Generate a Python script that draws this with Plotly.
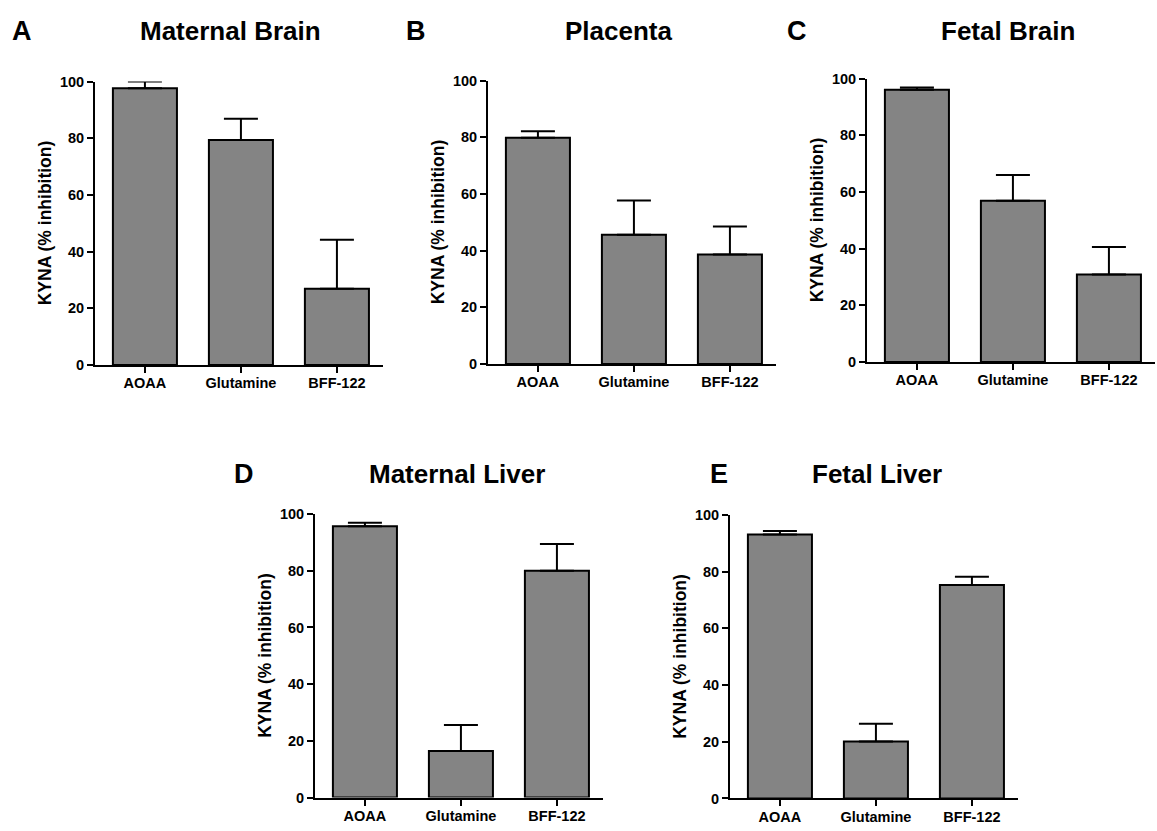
import plotly.graph_objects as go

W, H = 1157, 831

categories = ["AOAA", "Glutamine", "BFF-122"]

panel_letters = ["A", "B", "C", "D", "E"]
panel_titles = ["Maternal Brain", "Placenta", "Fetal Brain", "Maternal Liver", "Fetal Liver"]

maternal_brain_mean = [97.6, 79.4, 26.9]
maternal_brain_sem = [2.4, 7.5, 17.3]
placenta_mean = [79.8, 45.6, 38.6]
placenta_sem = [2.3, 12.1, 9.9]
fetal_brain_mean = [96.1, 56.9, 30.9]
fetal_brain_sem = [0.8, 9.1, 9.7]
maternal_liver_mean = [95.7, 16.4, 80.0]
maternal_liver_sem = [1.2, 9.2, 9.4]
fetal_liver_mean = [93.1, 20.1, 75.3]
fetal_liver_sem = [1.3, 6.3, 2.9]

means = [maternal_brain_mean, placenta_mean, fetal_brain_mean, maternal_liver_mean, fetal_liver_mean]
sems = [maternal_brain_sem, placenta_sem, fetal_brain_sem, maternal_liver_sem, fetal_liver_sem]

y_title = "KYNA (% inhibition)"
y_ticks = [0, 20, 40, 60, 80, 100]

# pixel layout of each plot area: (left, right, top, bottom)
boxes = [
    (95, 383, 75, 364),
    (488, 776, 74, 363),
    (867, 1155, 72, 361),
    (315, 603, 516, 805),
    (730, 1018, 517, 806),
]
title_pos = [(230, 23), (618, 23), (1008, 23), (457, 475), (877, 475)]
letter_pos = [(22, 23), (416, 23), (797, 23), (244, 475), (719, 475)]

FONT = "Liberation Sans, Arial, sans-serif"

fig = go.Figure()
annotations = []
layout_axes = {}

for i in range(5):
    n = "" if i == 0 else str(i + 1)
    l, r, t, b = boxes[i]
    fig.add_trace(go.Bar(
        x=categories,
        y=means[i],
        xaxis="x" + n,
        yaxis="y" + n,
        width=0.667,
        marker=dict(color="#848484", line=dict(color="black", width=2)),
        error_y=dict(type="data", symmetric=False, array=sems[i],
                     arrayminus=[0, 0, 0], color="black", thickness=2, width=17),
        cliponaxis=False,
        showlegend=False,
    ))
    layout_axes["xaxis" + n] = dict(
        domain=[l / W, r / W], anchor="y" + n,
        range=[-0.52, 2.48], showline=True, linecolor="black", linewidth=2,
        ticks="outside", ticklen=6, tickwidth=2, tickcolor="black",
        showgrid=False, zeroline=False, fixedrange=True, ticklabelstandoff=-2,
        tickfont=dict(family=FONT, size=14.5, color="black", weight="bold"),
    )
    layout_axes["yaxis" + n] = dict(
        domain=[1 - b / H, 1 - t / H], anchor="x" + n,
        range=[0, 100], tickvals=y_ticks, showline=True, linecolor="black", linewidth=2,
        ticks="outside", ticklen=6, tickwidth=2, tickcolor="black",
        showgrid=False, zeroline=False, fixedrange=True,
        tickfont=dict(family=FONT, size=14.5, color="black", weight="bold"),
    )
    annotations.append(dict(
        text="<b>" + panel_titles[i] + "</b>", x=title_pos[i][0] / W, y=1 - title_pos[i][1] / H,
        xref="paper", yref="paper", xanchor="center", yanchor="middle", showarrow=False,
        font=dict(family=FONT, size=26, color="black"),
    ))
    annotations.append(dict(
        text="<b>" + panel_letters[i] + "</b>", x=letter_pos[i][0] / W, y=1 - letter_pos[i][1] / H,
        xref="paper", yref="paper", xanchor="center", yanchor="middle", showarrow=False,
        font=dict(family=FONT, size=27, color="black"),
    ))
    annotations.append(dict(
        text="<b>" + y_title + "</b>", x=(l - 50) / W, y=1 - (t + b) / 2 / H,
        xref="paper", yref="paper", xanchor="center", yanchor="middle", showarrow=False,
        textangle=-90, font=dict(family=FONT, size=17.5, color="black"),
    ))

fig.update_layout(
    width=W, height=H,
    margin=dict(l=0, r=0, t=0, b=0),
    paper_bgcolor="white", plot_bgcolor="white",
    annotations=annotations,
    **layout_axes,
)

fig.write_html(
    "out.html",
    config={"displayModeBar": False},
    post_script="document.body.style.margin='0';document.body.style.overflow='hidden';",
)
